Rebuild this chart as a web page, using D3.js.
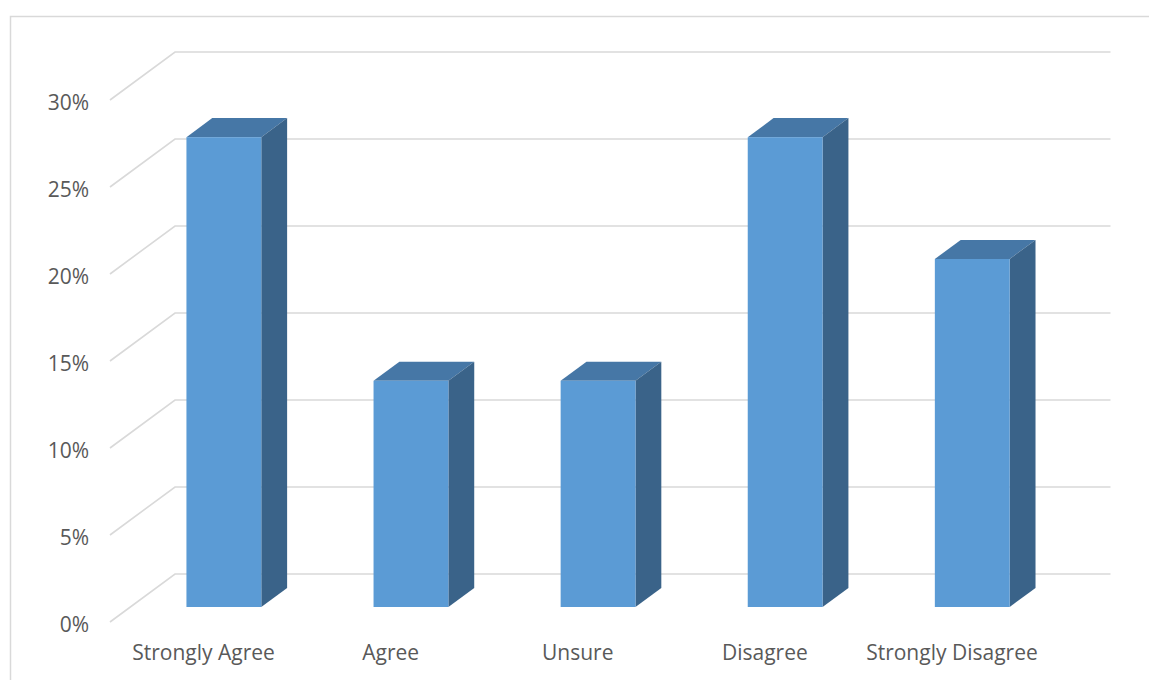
<!DOCTYPE html>
<html>
<head>
<meta charset="utf-8">
<script src="https://cdn.jsdelivr.net/npm/d3@7"></script>
<style>
body{margin:0;background:#fff;}
</style>
</head>
<body>
<script>
var svg_width=1149;
var svg_height=680;

var categories=["Strongly Agree","Agree","Unsure","Disagree","Strongly Disagree"];
var values=[0.27,0.13,0.13,0.27,0.20];
var ticks=[0,0.05,0.10,0.15,0.20,0.25,0.30];

// 3d depth of the plot: back wall is shifted right and up
var depth_x=65;
var depth_y=48;
var bar_front=0.3125; // bar starts at this fraction of depth
var bar_back=0.71;

var svg=d3.select("body")
        .append("svg")
        .attr("width",svg_width)
        .attr("height",svg_height);

// chart border
svg.append("rect")
    .attr("x",10.5)
    .attr("y",16.5)
    .attr("width",1160)
    .attr("height",700)
    .attr("fill","none")
    .attr("stroke","#d9d9d9")
    .attr("stroke-width",1.5);

var x=d3.scaleBand()
    .domain(categories)
    .range([110,1045.5])
    .paddingInner(0.6)
    .paddingOuter(0.3);

var xLabel=d3.scaleBand()
    .domain(categories)
    .range([110,1045.5]);

var y=d3.scaleLinear()
    .domain([0,0.30])
    .range([622,100]);

function px(xv,f){ return xv+depth_x*f; }
function py(v,f){ return y(v)-depth_y*f; }

// gridlines: side wall diagonal + back wall horizontal
var grid=svg.append("g")
    .attr("stroke","#d9d9d9")
    .attr("stroke-width",1.6)
    .attr("fill","none");

grid.selectAll("path")
    .data(ticks)
    .enter()
    .append("path")
    .attr("d",function (d) {
        return "M"+px(110,0)+","+py(d,0)+"L"+px(110,1)+","+py(d,1)+"L"+px(1045.5,1)+","+py(d,1);
    });

// y labels
svg.selectAll("text.ytick")
    .data(ticks)
    .enter()
    .append("text")
    .attr("class","ytick")
    .text(function (d) {
        return Math.round(d*100)+"%";
    })
    .attr("text-anchor","end")
    .attr("x",89)
    .attr("y",function (d) {
        return y(d)+10;
    })
    .attr("font-family","Open Sans, sans-serif")
    .attr("font-size","21px")
    .attr("fill","#595959");

// bars
var bars=svg.selectAll("g.bar")
    .data(values)
    .enter()
    .append("g")
    .attr("class","bar");

// top face
bars.append("path")
    .attr("fill","#4677a6")
    .attr("d",function (d,i) {
        var x0=x(categories[i]), x1=x0+x.bandwidth();
        return "M"+px(x0,bar_front)+","+py(d,bar_front)
            +"L"+px(x0,bar_back)+","+py(d,bar_back)
            +"L"+px(x1,bar_back)+","+py(d,bar_back)
            +"L"+px(x1,bar_front)+","+py(d,bar_front)+"Z";
    });

// side face
bars.append("path")
    .attr("fill","#3a6389")
    .attr("d",function (d,i) {
        var x1=x(categories[i])+x.bandwidth();
        return "M"+px(x1,bar_front)+","+py(d,bar_front)
            +"L"+px(x1,bar_back)+","+py(d,bar_back)
            +"L"+px(x1,bar_back)+","+py(0,bar_back)
            +"L"+px(x1,bar_front)+","+py(0,bar_front)+"Z";
    });

// front face
bars.append("rect")
    .attr("fill","#5b9bd5")
    .attr("x",function (d,i) {
        return px(x(categories[i]),bar_front);
    })
    .attr("y",function (d) {
        return py(d,bar_front);
    })
    .attr("width",x.bandwidth())
    .attr("height",function (d) {
        return y(0)-y(d);
    });

// category labels
svg.selectAll("text.xlab")
    .data(categories)
    .enter()
    .append("text")
    .attr("class","xlab")
    .text(function (d) {
        return d;
    })
    .attr("text-anchor","middle")
    .attr("x",function (d) {
        return xLabel(d)+xLabel.bandwidth()/2;
    })
    .attr("y",660)
    .attr("font-family","Open Sans, sans-serif")
    .attr("font-size","21px")
    .attr("fill","#595959");
</script>
</body>
</html>
